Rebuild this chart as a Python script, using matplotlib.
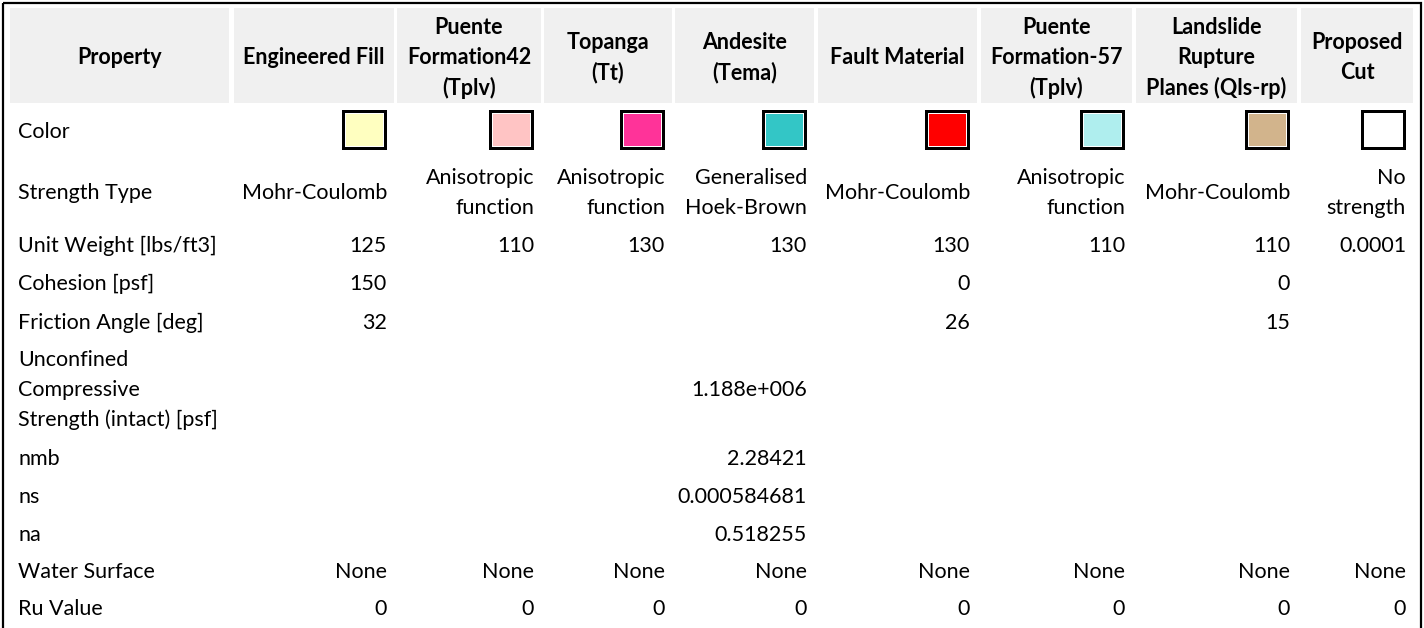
import matplotlib.pyplot as plt
from matplotlib.patches import Rectangle

# -----------------------------
# Table contents
# -----------------------------
materials = ["Engineered Fill", "Puente\nFormation42\n(Tplv)", "Topanga\n(Tt)",
             "Andesite\n(Tema)", "Fault Material", "Puente\nFormation-57\n(Tplv)",
             "Landslide\nRupture\nPlanes (Qls-rp)", "Proposed\nCut"]
swatch_colors = ["#FFFFC0", "#FFC4C4", "#FF3399", "#33C6C6",
                 "#FF0000", "#AFEEEE", "#D2B48C", "#FFFFFF"]

row_labels = ["Strength Type", "Unit Weight [lbs/ft3]", "Cohesion [psf]",
              "Friction Angle [deg]", "Unconfined\nCompressive\nStrength (intact) [psf]",
              "nmb", "ns", "na", "Water Surface", "Ru Value"]

strength_type = ["Mohr-Coulomb", "Anisotropic\nfunction", "Anisotropic\nfunction",
                 "Generalised\nHoek-Brown", "Mohr-Coulomb", "Anisotropic\nfunction",
                 "Mohr-Coulomb", "No\nstrength"]
unit_weight = ["125", "110", "130", "130", "130", "110", "110", "0.0001"]
cohesion = ["150", "", "", "", "0", "", "0", ""]
friction_angle = ["32", "", "", "", "26", "", "15", ""]
ucs_intact = ["", "", "", "1.188e+006", "", "", "", ""]
nmb = ["", "", "", "2.28421", "", "", "", ""]
ns = ["", "", "", "0.000584681", "", "", "", ""]
na = ["", "", "", "0.518255", "", "", "", ""]
water_surface = ["None"] * 8
ru_value = ["0"] * 8

rows = [strength_type, unit_weight, cohesion, friction_angle, ucs_intact,
        nmb, ns, na, water_surface, ru_value]

# -----------------------------
# Layout (pixel units)
# -----------------------------
W, H = 1424, 628
col_edges = [(10, 229), (234, 394), (397, 541), (544, 672), (675, 814),
             (818, 977), (981, 1132), (1136, 1297), (1301, 1413)]
header_top, header_bot = 8, 103
color_row_y = 130
row_y = [191, 244, 282, 321, 388, 457, 495, 533, 570, 607]
line_gap = 30
pad = 7

plt.rcParams['font.family'] = ['Lato', 'DejaVu Sans']
fs = 15.5

fig = plt.figure(figsize=(W / 100, H / 100), dpi=100)
ax = fig.add_axes([0, 0, 1, 1])
ax.set_xlim(0, W)
ax.set_ylim(H, 0)
ax.axis("off")


def put(x, yc, text, ha, **kw):
    lines = text.split("\n")
    y0 = yc - (len(lines) - 1) * line_gap / 2
    for k, ln in enumerate(lines):
        ax.text(x, y0 + k * line_gap, ln, ha=ha, va="center_baseline",
                fontsize=fs, color="black", **kw)


# header
headers = ["Property"] + materials
for (x0, x1), name in zip(col_edges, headers):
    ax.add_patch(Rectangle((x0, header_top), x1 - x0, header_bot - header_top,
                           facecolor="#F0F0F0", edgecolor="none"))
    put((x0 + x1) / 2, (header_top + header_bot) / 2, name, "center",
        fontweight="bold")

# color row
put(18, color_row_y, "Color", "left")
sw_w, sw_h = 45, 40
for (x0, x1), c in zip(col_edges[1:], swatch_colors):
    sx = x1 - pad - sw_w
    sy = color_row_y - sw_h / 2
    ax.add_patch(Rectangle((sx, sy), sw_w, sw_h, facecolor="black", edgecolor="none"))
    ax.add_patch(Rectangle((sx + 3, sy + 3), sw_w - 6, sw_h - 6,
                           facecolor="white", edgecolor="none"))
    ax.add_patch(Rectangle((sx + 4, sy + 4), sw_w - 8, sw_h - 8,
                           facecolor=c, edgecolor="none"))

# property rows
for label, vals, y in zip(row_labels, rows, row_y):
    put(18, y, label, "left")
    for (x0, x1), v in zip(col_edges[1:], vals):
        if v:
            put(x1 - pad, y, v, "right")

# outer border (bottom edge runs off the picture)
ax.add_patch(Rectangle((3, 3), 1418, 700, facecolor="none",
                       edgecolor="black", linewidth=1.6))

fig.savefig("out.png", dpi=100)
